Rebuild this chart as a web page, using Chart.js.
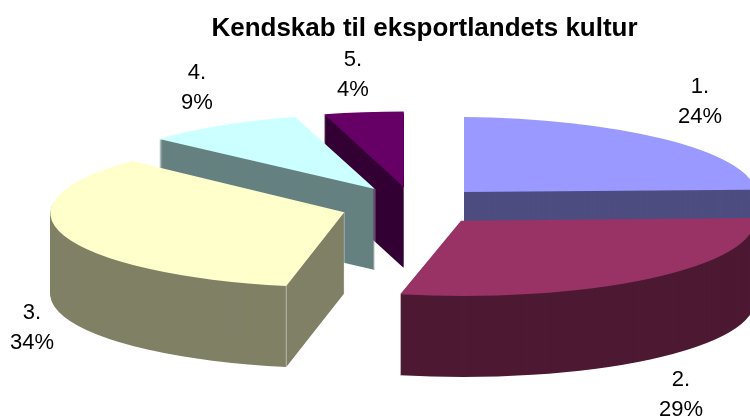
<!DOCTYPE html>
<html>
<head>
<meta charset="utf-8">
<style>
  html, body { margin: 0; padding: 0; background: #fff; }
  #wrap { width: 750px; height: 416px; overflow: hidden; }
</style>
<script src="https://cdn.jsdelivr.net/npm/chart.js@4"></script>
</head>
<body>
<div id="wrap"><canvas id="pie" width="750" height="416"></canvas></div>
<script>
// Survey answers: share of respondents per category, in percent.
const titleText = 'Kendskab til eksportlandets kultur';
const categories = ['1.', '2.', '3.', '4.', '5.'];
const shares = [24, 29, 34, 9, 4];

// Surface and side colours of each slice.
const topColors = ['#9999FF', '#993366', '#FFFFCC', '#CCFFFF', '#660066'];
const wallColors = ['#4D4D80', '#4D1933', '#808066', '#668080', '#330033'];

// Oblique view: where each exploded slice's tip lands, and how the unit circle is skewed.
const tipX = [464, 461, 344.3, 375, 403.7];
const tipY = [192, 220.7, 212.3, 189, 187];
const skews = [
  [292, 2.5, 0, 75],
  [293, 2, -6, 75.3],
  [294, 0, -3, 75],
  [288, -1.6, 8.5, 74.7],
  [320, -2, 0, 75.5]
];
const wallDepth = 81;
const paintOrder = [4, 3, 2, 0, 1];

// Where the two-line slice captions sit.
const captionX = [700, 681, 32, 197, 353];
const captionY = [87, 380, 313, 73, 60];
const captionLeading = 30;
const fontFamily = '"Liberation Sans", Arial, sans-serif';

function applyView(ctx, el, i, drop) {
  const [a, b, c, d] = skews[i];
  const R = el.outerRadius;
  ctx.setTransform(
    a / R, b / R, c / R, d / R,
    tipX[i] - (a * el.x + c * el.y) / R,
    tipY[i] + drop - (b * el.x + d * el.y) / R
  );
}

function drawWith(ctx, el, color) {
  const own = el.options;
  const tinted = Object.create(own);
  tinted.backgroundColor = color;
  el.options = tinted;
  el.draw(ctx);
  el.options = own;
}

function rimPoint(i, angle) {
  const [a, b, c, d] = skews[i];
  return [
    tipX[i] + a * Math.cos(angle) + c * Math.sin(angle),
    tipY[i] + b * Math.cos(angle) + d * Math.sin(angle)
  ];
}

function verticalEdge(ctx, x, y, color) {
  ctx.strokeStyle = color;
  ctx.lineWidth = 1;
  ctx.beginPath();
  ctx.moveTo(x, y);
  ctx.lineTo(x, y + wallDepth);
  ctx.stroke();
}

const extrudedSlices = {
  id: 'extrudedSlices',
  beforeDatasetsDraw(chart) {
    const ctx = chart.ctx;
    const arcs = chart.getDatasetMeta(0).data;
    paintOrder.forEach(i => {
      const el = arcs[i];
      ctx.save();
      for (let drop = wallDepth; drop >= 1; drop--) {
        applyView(ctx, el, i, drop);
        drawWith(ctx, el, wallColors[i]);
      }
      ctx.setTransform(1, 0, 0, 1, 0, 0);
      if (i === 2 || i === 3 || i === 4) {
        verticalEdge(ctx, tipX[i], tipY[i], 'rgba(255,255,255,0.35)');
      }
      if (i === 2) {
        const [px, py] = rimPoint(i, el.startAngle);
        verticalEdge(ctx, px, py, 'rgba(255,255,255,0.45)');
      }
      applyView(ctx, el, i, 0);
      drawWith(ctx, el, topColors[i]);
      ctx.restore();
    });
    return false;
  },
  afterDraw(chart) {
    const ctx = chart.ctx;
    ctx.save();
    ctx.fillStyle = '#000';
    ctx.font = '22px ' + fontFamily;
    ctx.textAlign = 'center';
    ctx.textBaseline = 'middle';
    shares.forEach((v, i) => {
      ctx.fillText(categories[i], captionX[i], captionY[i]);
      ctx.fillText(v + '%', captionX[i], captionY[i] + captionLeading);
    });
    ctx.restore();
  }
};

new Chart(document.getElementById('pie'), {
  type: 'pie',
  data: {
    labels: categories,
    datasets: [{ data: shares, backgroundColor: topColors, borderWidth: 0 }]
  },
  options: {
    responsive: false,
    animation: false,
    layout: { padding: { left: 99 } },
    plugins: {
      legend: { display: false },
      tooltip: { enabled: false },
      title: {
        display: true,
        text: titleText,
        color: '#000',
        fullSize: false,
        font: { family: fontFamily, size: 26, weight: 'bold' },
        padding: { top: 13, bottom: 8 }
      }
    }
  },
  plugins: [extrudedSlices]
});
</script>
</body>
</html>
